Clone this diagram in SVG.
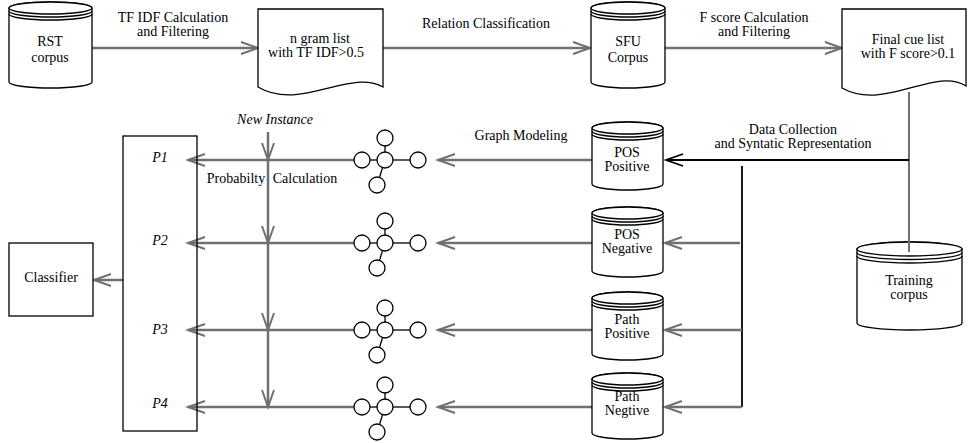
<svg xmlns="http://www.w3.org/2000/svg" xmlns:xlink="http://www.w3.org/1999/xlink" width="969" height="443" viewBox="0 0 969 443">
<style>
text{font-family:"Liberation Serif","Times New Roman",serif;font-size:14px;fill:#000;text-anchor:middle}
.it{font-style:italic}
.shape{fill:#fff;stroke:#000;stroke-width:1.3}
.arc{fill:none;stroke:#000;stroke-width:1.3}
.g{fill:none;stroke:#707070;stroke-width:2.5}
.k{fill:none;stroke:#000;stroke-width:1.8}
.ga{marker-end:url(#ag)}
.ka{marker-end:url(#ak)}
.node{fill:#fff;stroke:#000;stroke-width:1.3}
.edge{stroke:#000;stroke-width:1.3}
</style>
<defs>
<marker id="ag" markerUnits="userSpaceOnUse" markerWidth="22" markerHeight="16" viewBox="-19 -8 22 16" refX="0" refY="0" orient="auto" overflow="visible">
<path d="M-17,-6 L0,0 L-17,6" fill="none" stroke="#707070" stroke-width="2"/>
</marker>
<marker id="ak" markerUnits="userSpaceOnUse" markerWidth="22" markerHeight="16" viewBox="-19 -8 22 16" refX="0" refY="0" orient="auto" overflow="visible">
<path d="M-17,-6 L0,0 L-17,6" fill="none" stroke="#000" stroke-width="1.8"/>
</marker>
<g id="graph">
<line class="edge" x1="-15" y1="0" x2="-8" y2="0"/>
<line class="edge" x1="8" y1="0" x2="25" y2="0"/>
<line class="edge" x1="0" y1="-8" x2="0" y2="-14"/>
<line class="edge" x1="-2.5" y1="7.6" x2="-5.3" y2="17"/>
<circle class="node" cx="0" cy="0" r="8"/>
<circle class="node" cx="-23" cy="0" r="8"/>
<circle class="node" cx="33" cy="0" r="8"/>
<circle class="node" cx="0" cy="-22" r="8"/>
<circle class="node" cx="-8" cy="25" r="8"/>
</g>
</defs>

<g id="connectors">
<line class="g ga" x1="92" y1="48" x2="258" y2="48"/>
<line class="g ga" x1="383" y1="48" x2="590" y2="48"/>
<line class="g ga" x1="665" y1="48" x2="842" y2="48"/>
<line x1="909" y1="92" x2="909" y2="252" stroke="#707070" stroke-width="2"/>
<line class="k ka" x1="909" y1="160" x2="666" y2="160"/>
<polyline class="k" points="742,166 742,407"/>
<line class="g ga" x1="740" y1="243" x2="665" y2="243"/>
<line class="g ga" x1="742" y1="330" x2="665" y2="330"/>
<line class="g ga" x1="742" y1="407" x2="665" y2="407"/>
<line class="g ga" x1="592" y1="160" x2="438" y2="160"/>
<line class="g ga" x1="592" y1="243" x2="438" y2="243"/>
<line class="g ga" x1="592" y1="330" x2="438" y2="330"/>
<line class="g ga" x1="592" y1="407" x2="438" y2="407"/>
<line class="g ga" x1="354" y1="160" x2="188" y2="160"/>
<line class="g ga" x1="354" y1="243" x2="188" y2="243"/>
<line class="g ga" x1="354" y1="330" x2="188" y2="330"/>
<line class="g ga" x1="354" y1="407" x2="188" y2="407"/>
<line class="g ga" x1="268" y1="132" x2="268" y2="160"/>
<line class="g ga" x1="268" y1="160" x2="268" y2="243"/>
<line class="g ga" x1="268" y1="243" x2="268" y2="330"/>
<line class="g ga" x1="268" y1="330" x2="268" y2="407"/>
<line class="g ga" x1="123" y1="280" x2="94" y2="280"/>
<text x="173" y="22">TF IDF Calculation</text>
<text x="173" y="36">and Filtering</text>
<text x="486" y="28">Relation Classification</text>
<text x="754" y="22">F score Calculation</text>
<text x="754" y="36">and Filtering</text>
<text x="793" y="134">Data Collection</text>
<text x="793" y="148">and Syntatic Representation</text>
<text x="521" y="140">Graph Modeling</text>
<text class="it" x="275" y="124">New Instance</text>
<text y="183"><tspan x="236">Probabilty</tspan><tspan x="305">Calculation</tspan></text>
</g>

<g id="rst-corpus">
<path class="shape" d="M9,8 V82 A41.5,6 0 0 0 92,82 V8 A41.5,6 0 0 0 9,8 Z"/>
<ellipse class="shape" cx="50.5" cy="8" rx="41.5" ry="6"/>
<path class="arc" d="M9,11 A41.5,6 0 0 0 92,11 M9,14 A41.5,6 0 0 0 92,14"/>
<text x="50" y="46">RST</text>
<text x="50" y="62">corpus</text>
</g>

<g id="ngram-list">
<path class="shape" d="M258,9 H383 V87 C350,68 300,112 258,87 Z"/>
<text x="320" y="43">n gram list</text>
<text x="316" y="57">with TF IDF&gt;0.5</text>
</g>

<g id="sfu-corpus">
<path class="shape" d="M591,8 V82 A37,6 0 0 0 665,82 V8 A37,6 0 0 0 591,8 Z"/>
<ellipse class="shape" cx="628" cy="8" rx="37" ry="6"/>
<path class="arc" d="M591,11 A37,6 0 0 0 665,11 M591,14 A37,6 0 0 0 665,14"/>
<text x="628" y="46">SFU</text>
<text x="628" y="62">Corpus</text>
</g>

<g id="final-cue-list">
<path class="shape" d="M842,9 H966 V86 C935,66 885,112 842,88 Z"/>
<text x="908" y="44">Final cue list</text>
<text x="908" y="58">with F score&gt;0.1</text>
</g>

<g id="training-corpus">
<path class="shape" d="M857,249 V323 A52.5,7 0 0 0 962,323 V249 A52.5,7 0 0 0 857,249 Z"/>
<ellipse class="shape" cx="909.5" cy="249" rx="52.5" ry="7"/>
<path class="arc" d="M857,252.5 A52.5,7 0 0 0 962,252.5 M857,256 A52.5,7 0 0 0 962,256"/>
<line x1="909" y1="240" x2="909" y2="252" stroke="#707070" stroke-width="2"/>
<text x="909" y="285">Training</text>
<text x="909" y="299">corpus</text>
</g>

<g id="pos-positive">
<path class="shape" d="M592,128 V184 A35.5,6 0 0 0 663,184 V128 A35.5,6 0 0 0 592,128 Z"/>
<ellipse class="shape" cx="627.5" cy="128" rx="35.5" ry="6"/>
<path class="arc" d="M592,131 A35.5,6 0 0 0 663,131 M592,134 A35.5,6 0 0 0 663,134"/>
<text x="627" y="157">POS</text>
<text x="627" y="171">Positive</text>
</g>

<g id="pos-negative">
<path class="shape" d="M592,213 V271 A35.5,6 0 0 0 663,271 V213 A35.5,6 0 0 0 592,213 Z"/>
<ellipse class="shape" cx="627.5" cy="213" rx="35.5" ry="6"/>
<path class="arc" d="M592,216 A35.5,6 0 0 0 663,216 M592,219 A35.5,6 0 0 0 663,219"/>
<text x="627" y="239">POS</text>
<text x="627" y="253">Negative</text>
</g>

<g id="path-positive">
<path class="shape" d="M592,298 V354 A35.5,6 0 0 0 663,354 V298 A35.5,6 0 0 0 592,298 Z"/>
<ellipse class="shape" cx="627.5" cy="298" rx="35.5" ry="6"/>
<path class="arc" d="M592,301 A35.5,6 0 0 0 663,301 M592,304 A35.5,6 0 0 0 663,304"/>
<text x="627" y="324">Path</text>
<text x="627" y="338">Positive</text>
</g>

<g id="path-negtive">
<path class="shape" d="M592,379 V433 A35.5,6 0 0 0 663,433 V379 A35.5,6 0 0 0 592,379 Z"/>
<ellipse class="shape" cx="627.5" cy="379" rx="35.5" ry="6"/>
<path class="arc" d="M592,382 A35.5,6 0 0 0 663,382 M592,385 A35.5,6 0 0 0 663,385"/>
<text x="627" y="401">Path</text>
<text x="627" y="415">Negtive</text>
</g>

<g id="graph1"><use xlink:href="#graph" href="#graph" x="385" y="160"/></g>
<g id="graph2"><use xlink:href="#graph" href="#graph" x="385" y="243"/></g>
<g id="graph3"><use xlink:href="#graph" href="#graph" x="385" y="330"/></g>
<g id="graph4"><use xlink:href="#graph" href="#graph" x="385" y="407"/></g>

<g id="prob-box">
<rect class="shape" x="123" y="136" width="74" height="295" style="fill:none"/>
<text class="it" x="160" y="162">P1</text>
<text class="it" x="160" y="245">P2</text>
<text class="it" x="160" y="334">P3</text>
<text class="it" x="160" y="408">P4</text>
</g>

<g id="classifier">
<rect class="shape" x="9" y="243" width="84" height="73"/>
<text x="51" y="282">Classifier</text>
</g>
</svg>
